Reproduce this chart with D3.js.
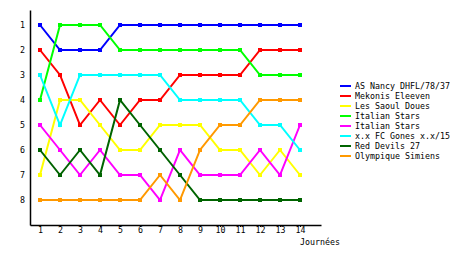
<!DOCTYPE html>
<html>
<head>
<meta charset="utf-8">
<script src="https://cdn.jsdelivr.net/npm/d3@7"></script>
<style>
    body { margin: 0; background: #fff; }
    svg text { font-family: "DejaVu Sans Mono", monospace; font-size: 8.3px; fill: #000; }
</style>
</head>
<body>
<div id="chart"></div>
<script>
// Journées 1..14, rank of each team (1 = top)
const rounds = [1, 2, 3, 4, 5, 6, 7, 8, 9, 10, 11, 12, 13, 14];
const rankTicks = [1, 2, 3, 4, 5, 6, 7, 8];

const teams = ['AS Nancy DHFL/78/37', 'Mekonis Eleeven', 'Les Saoul Doues', 'Italian Stars',
    'Italian Stars', 'x.x FC Gones x.x/15', 'Red Devils 27', 'Olympique Simiens'];
const colors = ['#0000ff', '#ff0000', '#ffff00', '#00ff00', '#ff00ff', '#00ffff', '#006400', '#ff9900'];

const nancy    = [1, 2, 2, 2, 1, 1, 1, 1, 1, 1, 1, 1, 1, 1];
const mekonis  = [2, 3, 5, 4, 5, 4, 4, 3, 3, 3, 3, 2, 2, 2];
const saoul    = [7, 4, 4, 5, 6, 6, 5, 5, 5, 6, 6, 7, 6, 7];
const italian1 = [4, 1, 1, 1, 2, 2, 2, 2, 2, 2, 2, 3, 3, 3];
const italian2 = [5, 6, 7, 6, 7, 7, 8, 6, 7, 7, 7, 6, 7, 5];
const gones    = [3, 5, 3, 3, 3, 3, 3, 4, 4, 4, 4, 5, 5, 6];
const devils   = [6, 7, 6, 7, 4, 5, 6, 7, 8, 8, 8, 8, 8, 8];
const simiens  = [8, 8, 8, 8, 8, 8, 7, 8, 6, 5, 5, 4, 4, 4];

const series = [nancy, mekonis, saoul, italian1, italian2, gones, devils, simiens];

const width = 460, height = 255;

const svg = d3.select('#chart')
    .append('svg')
    .attr('width', width)
    .attr('height', height);

// scales extended a bit past the data so the axis lines run like the original
const x = d3.scaleLinear().domain([0.5, 15.05]).range([30, 321]);
const y = d3.scaleLinear().domain([0.4, 9]).range([10, 225]);

// X axis
const xAxis = svg.append('g')
    .attr('transform', `translate(0,${y(9)})`)
    .call(d3.axisBottom(x).tickValues(rounds).tickSize(2).tickSizeOuter(0).tickPadding(0));
xAxis.select('.domain').attr('stroke-width', 1.5);
xAxis.selectAll('text').attr('font-size', '8.3px').attr('font-family', '"DejaVu Sans Mono", monospace');

// Y axis
const yAxis = svg.append('g')
    .attr('transform', `translate(${x(0.5)},0)`)
    .call(d3.axisLeft(y).tickValues(rankTicks).tickSize(0).tickSizeOuter(0).tickPadding(5));
yAxis.select('.domain').attr('stroke-width', 1.5);
yAxis.selectAll('text').attr('font-size', '8.3px').attr('font-family', '"DejaVu Sans Mono", monospace');

svg.append('text')
    .attr('x', 300)
    .attr('y', 245)
    .text('Journées');

// Lines
const line = d3.line()
    .x((d, i) => x(rounds[i]))
    .y(d => y(d));

series.forEach((s, k) => {
    svg.append('path')
        .datum(s)
        .attr('fill', 'none')
        .attr('stroke', colors[k])
        .attr('stroke-width', 2)
        .attr('d', line);

    svg.selectAll(null)
        .data(s)
        .enter()
        .append('rect')
        .attr('x', (d, i) => x(rounds[i]) - 2)
        .attr('y', d => y(d) - 2)
        .attr('width', 4)
        .attr('height', 4)
        .attr('fill', colors[k]);
});

// Legend
const legend = svg.append('g')
    .attr('transform', 'translate(340,86)');

teams.forEach((t, k) => {
    const row = legend.append('g').attr('transform', `translate(0,${k * 10})`);
    row.append('rect')
        .attr('x', 0)
        .attr('y', -1)
        .attr('width', 11)
        .attr('height', 2)
        .attr('fill', colors[k]);
    row.append('text')
        .attr('x', 15)
        .attr('y', 3)
        .text(t);
});
</script>
</body>
</html>
